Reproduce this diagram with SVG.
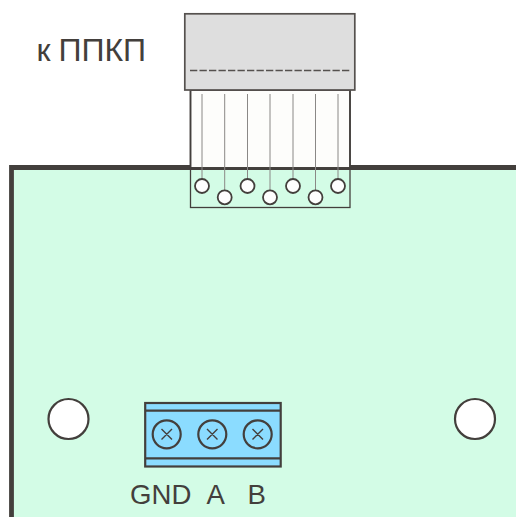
<svg xmlns="http://www.w3.org/2000/svg" width="516" height="517" viewBox="0 0 516 517">
<style>
.s{stroke:#433f3c;fill:none}
.h{stroke:#433f3c;stroke-width:2.2;fill:#fff}
.p{stroke:#433f3c;stroke-width:1.8;fill:#fefefe}
.w{stroke:#8a8886;stroke-width:1;fill:none}
.sc{stroke:#433f3c;stroke-width:2.2;fill:none}
.t{font-family:"Liberation Sans",Arial,sans-serif;fill:#433f3c}
</style>
<rect width="516" height="517" fill="#fff"/>
<g id="board">
<path d="M11.5 517V167.5H516V517Z" fill="#d3fce6" stroke="none"/>
<path d="M11.5 517V167.5H516" class="s" stroke-width="4.8"/>
</g>
<g id="hole-left"><circle cx="68.5" cy="419" r="20" class="h"/></g>
<g id="hole-right"><circle cx="475" cy="419" r="20" class="h"/></g>
<g id="cable-body">
<rect x="190.5" y="90" width="159.5" height="78" fill="#fdfdfb" stroke="#433f3c" stroke-width="1.9"/>
<rect x="190.5" y="168" width="159.5" height="39.5" fill="none" stroke="#433f3c" stroke-width="1.3"/>
</g>
<g id="wires">
<path d="M202 94V186M224.7 94V197.3M247.5 94V186M270 94V197.3M293 94V186M315.5 94V197.3M338 94V186" class="w"/>
</g>
<g id="pins">
<circle cx="202" cy="186" r="7" class="p"/>
<circle cx="224.7" cy="197.3" r="7" class="p"/>
<circle cx="247.5" cy="186" r="7" class="p"/>
<circle cx="270" cy="197.3" r="7" class="p"/>
<circle cx="293" cy="186" r="7" class="p"/>
<circle cx="315.5" cy="197.3" r="7" class="p"/>
<circle cx="338" cy="186" r="7" class="p"/>
</g>
<g id="connector-head">
<rect x="184.8" y="13.8" width="170" height="76.2" fill="#dedede" stroke="#55514e" stroke-width="1.7"/>
<path d="M190 70.5H350.5" stroke="#55514e" stroke-width="1.5" stroke-dasharray="7.3 2.2" fill="none"/>
</g>
<g id="terminal">
<rect x="145.2" y="403" width="135.5" height="63.5" fill="#8bdcff" stroke="#433f3c" stroke-width="2.2"/>
<path d="M145 410.7H281M145 458.3H281" class="sc"/>
<circle cx="166.7" cy="434.3" r="14" class="sc"/>
<circle cx="212.3" cy="434.3" r="14" class="sc"/>
<circle cx="257.7" cy="434.3" r="14" class="sc"/>
<path d="M161.5 429l10.5 10.5M172 429l-10.5 10.5M207 429l10.5 10.5M217.5 429l-10.5 10.5M252.5 429l10.5 10.5M263 429l-10.5 10.5" stroke="#433f3c" stroke-width="1.4" fill="none"/>
</g>
<g id="labels">
<text class="t" x="36.5" y="61" font-size="32" word-spacing="-1">к ППКП</text>
<text class="t" x="130" y="503.5" font-size="27.6">GND</text>
<text class="t" x="206.5" y="503.5" font-size="27.6">A</text>
<text class="t" x="247.5" y="503.5" font-size="27.6">B</text>
</g>
</svg>
